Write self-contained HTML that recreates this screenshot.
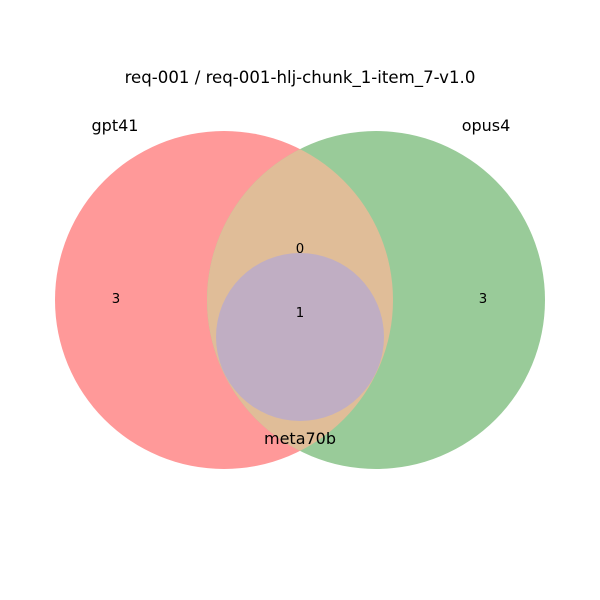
<!DOCTYPE html>
<html><head><meta charset="utf-8"><style>
body{margin:0;background:#fff}
svg{display:block;font-family:"DejaVu Sans","Liberation Sans",sans-serif}
</style></head><body>
<svg id="chart" width="600" height="600" viewBox="0 0 600 600">
<defs>
<clipPath id="clipA"><circle cx="224" cy="300" r="169"/></clipPath>
</defs>
<text x="300" y="83" text-anchor="middle" font-size="16.6">req-001 / req-001-hlj-chunk_1-item_7-v1.0</text>
<g id="regions"></g>
<g id="labels"></g>
</svg>
<script>
const setNames = ["gpt41", "opus4", "meta70b"];
const regionKeys = ["100", "010", "110", "111"];
const regionCounts = [3, 3, 0, 1];

const NS = "http://www.w3.org/2000/svg";
const circles = [{cx:224,cy:300,r:169},{cx:376,cy:300,r:169},{cx:300,cy:337,r:84}];
const regionsG = document.getElementById('regions');
const labelsG = document.getElementById('labels');
function mk(tag, attrs, parent){const e=document.createElementNS(NS,tag);for(const k in attrs)e.setAttribute(k,attrs[k]);parent.appendChild(e);return e;}

const a = mk('circle',{cx:circles[0].cx,cy:circles[0].cy,r:circles[0].r,fill:'#ff9999'},regionsG);


const b = mk('circle',{cx:circles[1].cx,cy:circles[1].cy,r:circles[1].r,fill:'#99cb99'},regionsG);


const ab = mk('circle',{cx:circles[1].cx,cy:circles[1].cy,r:circles[1].r,fill:'#e0bd98','clip-path':'url(#clipA)'},regionsG);


const c = mk('circle',{cx:circles[2].cx,cy:circles[2].cy,r:circles[2].r,fill:'#c0aec3'},regionsG);



const setLabelPos = [[115,131],[486,131],[300,444]];
setNames.forEach((n,i)=>{
  const t = mk('text',{x:setLabelPos[i][0],y:setLabelPos[i][1],'text-anchor':'middle','font-size':16},labelsG);
  t.textContent = n;
  
  
});
const countPos = {"100":[116,303],"010":[483,303],"110":[300,253],"111":[300,317]};
regionKeys.forEach((k,i)=>{
  const p = countPos[k];
  const t = mk('text',{x:p[0],y:p[1],'text-anchor':'middle','font-size':13.3},labelsG);
  t.textContent = regionCounts[i];
  
  
});
</script>
</body></html>
